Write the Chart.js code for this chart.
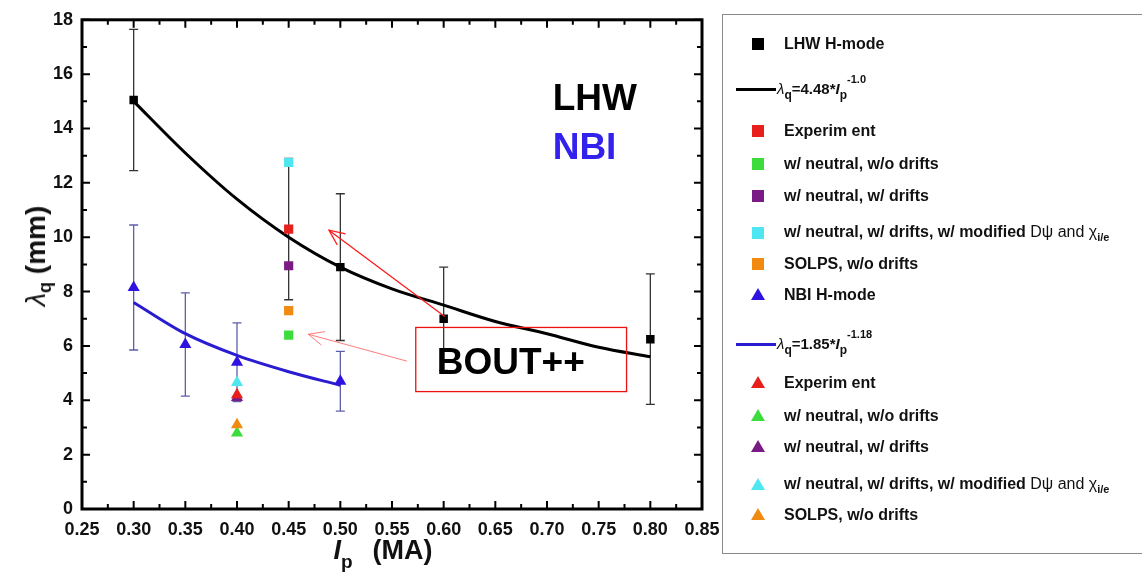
<!DOCTYPE html>
<html><head><meta charset="utf-8">
<script src="https://cdn.jsdelivr.net/npm/chart.js@4"></script>
<style>
html,body{margin:0;padding:0;background:#fff;overflow:hidden;}
#wrap{position:relative;width:1142px;height:576px;font-family:'Liberation Sans',Arial,sans-serif;color:#111;}
#c{position:absolute;left:0;top:0;}
#legend{position:absolute;left:722px;top:14px;width:440px;height:540px;border:1.5px solid #8a8a8a;box-sizing:border-box;}
.row{position:absolute;left:0;height:0;width:100%;}
.sq{position:absolute;left:29px;top:-6px;width:12px;height:12px;}
.tri{position:absolute;left:28px;top:-7px;}
.ln{position:absolute;left:13px;width:40px;height:3px;top:-1.5px;}
.tx{position:absolute;left:61px;top:0;transform:translateY(-50%);font-weight:bold;font-size:16px;white-space:nowrap;}
.fx{position:absolute;left:54px;top:0;transform:translateY(-55%);font-weight:bold;font-size:15px;white-space:nowrap;}
.fx sub{font-size:12px;vertical-align:-5px;}
.fx sup{font-size:11px;vertical-align:11px;}
.nw{font-weight:normal;}
.tx sub{font-size:11px;vertical-align:-4px;font-weight:bold;}
#ytitle{position:absolute;left:38px;top:256px;transform:translate(-50%,-50%) rotate(-90deg);font-weight:bold;font-size:28px;white-space:nowrap;}
#ytitle i{font-size:27px;}
#ytitle sub{font-size:18px;vertical-align:-6px;}
#xtitle{position:absolute;left:283px;width:200px;top:535px;text-align:center;font-weight:bold;font-size:27px;line-height:30px;white-space:nowrap;}
#xtitle sub{font-size:19px;vertical-align:-9px;margin-right:20px;}
</style></head>
<body>
<div id="wrap">
<canvas id="c" width="1142" height="576"></canvas>
<div id="ytitle"><i class="nw">λ</i><sub>q</sub> (mm)</div>
<div id="xtitle"><i>I</i><sub>p</sub>(MA)</div>
<div id="legend"></div>
</div>
<script>
// ---- data ----
const xTicks = [0.25,0.30,0.35,0.40,0.45,0.50,0.55,0.60,0.65,0.70,0.75,0.80,0.85];
const yTicks = [0,2,4,6,8,10,12,14,16,18];

const lhwIp      = [0.30, 0.50, 0.60, 0.80];
const lhwLambda  = [15.05, 8.9, 7.0, 6.25];
const lhwErr     = [2.6, 2.7, 1.9, 2.4];

const nbiIp      = [0.30, 0.35, 0.40, 0.50];
const nbiLambda  = [8.15, 6.05, 5.4, 4.7];
const nbiErr     = [2.3, 1.9, 1.45, 1.1];

const lhwFitIp     = [0.30,0.35,0.40,0.45,0.50,0.55,0.60,0.65,0.70,0.75,0.80];
const lhwFitLambda = [15.0,13.1,11.4,10.0,8.9,8.1,7.5,6.9,6.45,5.95,5.6];
const nbiFitIp     = [0.30,0.35,0.40,0.45,0.50];
const nbiFitLambda = [7.6,6.45,5.65,5.05,4.55];

// BOUT++ / SOLPS comparisons
const caseLabels   = ['Experiment','w/ neutral, w/o drifts','w/ neutral, w/ drifts','w/ neutral, w/ drifts, w/ modified Dψ and χi/e','SOLPS, w/o drifts'];
const lhwCaseIp     = 0.45;
const lhwCaseLambda = [10.3, 6.4, 8.95, 12.75, 7.3];
const lhwCaseErr    = [2.6, 0, 0, 0, 0];
const nbiCaseIp     = 0.40;
const nbiCaseLambda = [4.2, 2.8, 4.1, 4.65, 3.1];

const caseColors = ['#e8201c','#3ddc3d','#7a1a84','#4ee6f0','#f08a10'];
const caseOrderTop = [1,5,4,2,3]; // draw order (lower = on top)

const pts = (xs, ys) => xs.map((x,i)=>({x:x, y:ys[i]}));

const datasets = [];
datasets.push({label:'LHW H-mode', data:pts(lhwIp,lhwLambda), errors:lhwErr, errorColor:'#333',
  pointStyle:'rect', pointRadius:6, backgroundColor:'#000', borderColor:'#000', borderWidth:0, showLine:false, order:1});
datasets.push({label:'λq=4.48*Ip^-1.0', data:pts(lhwFitIp,lhwFitLambda), showLine:true, pointRadius:0,
  borderColor:'#000', borderWidth:3, cubicInterpolationMode:'monotone', order:20});
caseLabels.forEach((lab,i)=>{
  datasets.push({label:lab, data:[{x:lhwCaseIp, y:lhwCaseLambda[i]}], errors:[lhwCaseErr[i]], errorColor:'#333',
    pointStyle:'rect', pointRadius:6.5, backgroundColor:caseColors[i], borderColor:caseColors[i], borderWidth:0, showLine:false, order:caseOrderTop[i]});
});
datasets.push({label:'NBI H-mode', data:pts(nbiIp,nbiLambda), errors:nbiErr, errorColor:'#5e5eaa',
  pointStyle:'triangle', pointRadius:7, backgroundColor:'#2e12e0', borderColor:'#2e12e0', borderWidth:0, showLine:false, order:1});
datasets.push({label:'λq=1.85*Ip^-1.18', data:pts(nbiFitIp,nbiFitLambda), showLine:true, pointRadius:0,
  borderColor:'#2a1cd0', borderWidth:3, cubicInterpolationMode:'monotone', order:20});
caseLabels.forEach((lab,i)=>{
  datasets.push({label:lab, data:[{x:nbiCaseIp, y:nbiCaseLambda[i]}],
    pointStyle:'triangle', pointRadius:7, backgroundColor:caseColors[i], borderColor:caseColors[i], borderWidth:0, showLine:false, order:caseOrderTop[i]});
});

const errorBars = {
  id:'errorBars',
  beforeDatasetsDraw(chart){
    const {ctx, scales:{x,y}} = chart;
    ctx.save();
    chart.data.datasets.forEach(ds=>{
      if(!ds.errors) return;
      ds.data.forEach((p,j)=>{
        const e = ds.errors[j]; if(!e) return;
        const px = x.getPixelForValue(p.x);
        const y1 = y.getPixelForValue(p.y+e), y2 = y.getPixelForValue(p.y-e);
        ctx.strokeStyle = ds.errorColor; ctx.lineWidth = 1.3;
        ctx.beginPath();
        ctx.moveTo(px,y1); ctx.lineTo(px,y2);
        ctx.moveTo(px-4.5,y1); ctx.lineTo(px+4.5,y1);
        ctx.moveTo(px-4.5,y2); ctx.lineTo(px+4.5,y2);
        ctx.stroke();
      });
    });
    ctx.restore();
  }
};

function arrow(ctx, x0,y0,x1,y1, w){
  ctx.lineWidth = w;
  ctx.beginPath(); ctx.moveTo(x0,y0); ctx.lineTo(x1,y1); ctx.stroke();
  const ang = Math.atan2(y0-y1, x0-x1), L = 17, da = 0.42;
  ctx.beginPath();
  ctx.moveTo(x1+L*Math.cos(ang+da), y1+L*Math.sin(ang+da));
  ctx.lineTo(x1,y1);
  ctx.lineTo(x1+L*Math.cos(ang-da), y1+L*Math.sin(ang-da));
  ctx.stroke();
}

const annotations = {
  id:'annotations',
  afterDatasetsDraw(chart){
    const {ctx, scales:{x,y}} = chart;
    ctx.save();
    ctx.font = 'bold 37px "Liberation Sans", Arial, sans-serif';
    ctx.textBaseline = 'alphabetic'; ctx.textAlign = 'left';
    ctx.fillStyle = '#000';
    ctx.fillText('LHW', x.getPixelForValue(0.7055), y.getPixelForValue(14.69));
    ctx.fillStyle = '#3322ee';
    ctx.fillText('NBI', x.getPixelForValue(0.7055), y.getPixelForValue(12.86));
    // BOUT++ box (transparent)
    ctx.strokeStyle = '#ee1111'; ctx.lineWidth = 1.3;
    const bx0 = x.getPixelForValue(0.573), bx1 = x.getPixelForValue(0.777);
    const by0 = y.getPixelForValue(6.68), by1 = y.getPixelForValue(4.32);
    ctx.strokeRect(bx0,by0,bx1-bx0,by1-by0);
    ctx.fillStyle = '#000';
    ctx.fillText('BOUT++', x.getPixelForValue(0.5933), y.getPixelForValue(4.98));
    ctx.strokeStyle = '#ff1a1a';
    arrow(ctx, x.getPixelForValue(0.601), y.getPixelForValue(7.08), x.getPixelForValue(0.489), y.getPixelForValue(10.26), 1.3);
    ctx.strokeStyle = '#ff5a5a';
    arrow(ctx, x.getPixelForValue(0.5645), y.getPixelForValue(5.44), x.getPixelForValue(0.469), y.getPixelForValue(6.43), 0.8);
    ctx.restore();
  }
};

const frame = {
  id:'frame',
  afterDraw(chart){
    const {ctx, chartArea:a, scales:{x,y}} = chart;
    ctx.save();
    ctx.strokeStyle = '#000';
    ctx.lineWidth = 2;
    const maj = 8, mnr = 5;
    ctx.beginPath();
    xTicks.forEach((v,i)=>{
      const px = x.getPixelForValue(v);
      ctx.moveTo(px,a.bottom); ctx.lineTo(px,a.bottom-maj);
      ctx.moveTo(px,a.top); ctx.lineTo(px,a.top+maj);
      if(i<xTicks.length-1){
        const m = x.getPixelForValue((v+xTicks[i+1])/2);
        ctx.moveTo(m,a.bottom); ctx.lineTo(m,a.bottom-mnr);
        ctx.moveTo(m,a.top); ctx.lineTo(m,a.top+mnr);
      }
    });
    yTicks.forEach((v,i)=>{
      const py = y.getPixelForValue(v);
      ctx.moveTo(a.left,py); ctx.lineTo(a.left+maj,py);
      ctx.moveTo(a.right,py); ctx.lineTo(a.right-maj,py);
      if(i<yTicks.length-1){
        const m = y.getPixelForValue((v+yTicks[i+1])/2);
        ctx.moveTo(a.left,m); ctx.lineTo(a.left+mnr,m);
        ctx.moveTo(a.right,m); ctx.lineTo(a.right-mnr,m);
      }
    });
    ctx.stroke();
    ctx.lineWidth = 3;
    ctx.strokeRect(a.left, a.top, a.right-a.left, a.bottom-a.top);
    ctx.restore();
  }
};

const tickFont = {family:'"Liberation Sans", Arial, sans-serif', size:18, weight:'bold'};
new Chart(document.getElementById('c'), {
  type:'scatter',
  data:{datasets},
  options:{
    responsive:false, animation:false, devicePixelRatio:1,
    layout:{padding:{top:16, right:440, left:0, bottom:0}},
    plugins:{legend:{display:false}, tooltip:{enabled:false}, title:{display:false}},
    scales:{
      x:{type:'linear', min:xTicks[0], max:xTicks[xTicks.length-1],
        afterBuildTicks(s){ s.ticks = xTicks.map(v=>({value:v})); },
        afterFit(s){ s.height = 67; },
        grid:{display:false, drawTicks:false}, border:{display:false},
        ticks:{font:tickFont, color:'#111', padding:10, maxRotation:0, autoSkip:false, callback:v=>v.toFixed(2)}},
      y:{type:'linear', min:yTicks[0], max:yTicks[yTicks.length-1],
        afterBuildTicks(s){ s.ticks = yTicks.map(v=>({value:v})); },
        afterFit(s){ s.width = 82; },
        grid:{display:false, drawTicks:false}, border:{display:false},
        ticks:{font:tickFont, color:'#111', padding:9, autoSkip:false, callback:v=>String(v)}}
    }
  },
  plugins:[errorBars, annotations, frame]
});

// ---- legend (HTML) ----
const tri = c => `<svg class="tri" width="14" height="13" viewBox="0 0 14 13"><polygon points="7,0 14,12 0,12" fill="${c}"/></svg>`;
const sq = c => `<div class="sq" style="background:${c}"></div>`;
const caseHtml = ['Experim ent','w/ neutral, w/o drifts','w/ neutral, w/ drifts',
  'w/ neutral, w/ drifts, w/ modified <span class="nw">Dψ and χ</span><sub>i/e</sub>','SOLPS, w/o drifts'];
const rows = [];
rows.push([42.7, sq('#000') + `<div class="tx">LHW H-mode</div>`]);
rows.push([88, `<div class="ln" style="background:#000"></div><div class="fx"><i class="nw">λ</i><sub>q</sub>=4.48*<i>I</i><sub>p</sub><sup>-1.0</sup></div>`]);
const lhwY = [130,162.5,195,232,263];
caseHtml.forEach((h,i)=>rows.push([lhwY[i], sq(caseColors[i]) + `<div class="tx">${h}</div>`]));
rows.push([294, tri('#2e12e0') + `<div class="tx">NBI H-mode</div>`]);
rows.push([343, `<div class="ln" style="background:#2a1cd0"></div><div class="fx"><i class="nw">λ</i><sub>q</sub>=1.85*<i>I</i><sub>p</sub><sup>-1.18</sup></div>`]);
const nbiY = [382,415,446,484,514];
caseHtml.forEach((h,i)=>rows.push([nbiY[i], tri(caseColors[i]) + `<div class="tx">${h}</div>`]));
document.getElementById('legend').innerHTML = rows.map(r=>`<div class="row" style="top:${r[0]-14}px">${r[1]}</div>`).join('');
</script>
</body></html>
